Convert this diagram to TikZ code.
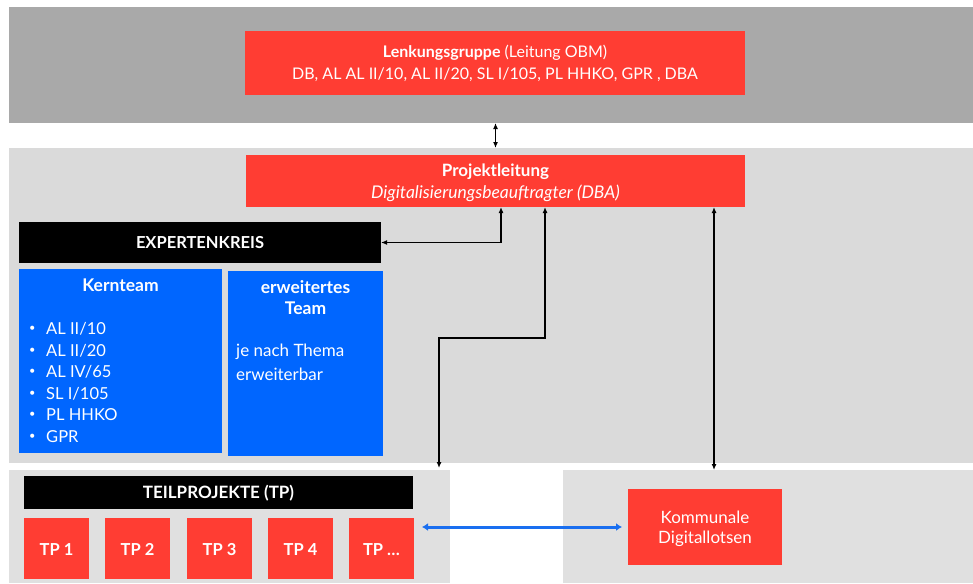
\documentclass[tikz,border=0pt]{standalone}
\usepackage{fontspec}
\setmainfont{Lato}
\usetikzlibrary{arrows.meta,calc}
\definecolor{bandA}{HTML}{A9A9A9}
\definecolor{bandB}{HTML}{DADADA}
\definecolor{bandC}{HTML}{E0E0E0}
\definecolor{redbox}{HTML}{FF3D33}
\definecolor{bluebox}{HTML}{0066FF}
\definecolor{bluearr}{HTML}{1A6FF0}
\tikzset{
  rect/.style={rectangle, inner sep=0pt, outer sep=0pt, anchor=north west},
  band/.style={rect, fill=#1},
  redb/.style={rect, fill=redbox, text=white, align=center},
  blackb/.style={rect, fill=black, text=white, align=center},
  blueb/.style={rect, fill=bluebox},
  wtxt/.style={text=white, inner sep=0pt},
  dbl/.style={line width=1.3pt, {Latex[length=6pt,width=5pt]}-{Latex[length=6pt,width=5pt]}},
  bluedbl/.style={line width=3pt, bluearr, {Latex[length=6pt,width=8pt]}-{Latex[length=6pt,width=8pt]}},
}
\begin{document}
\begin{tikzpicture}[x=1pt,y=-1pt]
\useasboundingbox (0,0) rectangle (973,583);
\fill[white] (0,0) rectangle (973,583);
% bands
\node[band=bandA, minimum width=964pt, minimum height=116pt] (bandtop) at (9,7) {};
\node[band=bandB, minimum width=964pt, minimum height=315pt] (bandmid) at (9,148) {};
\node[band=bandC, minimum width=441pt, minimum height=113pt] (tpband) at (9,470) {};
\node[band=bandC, minimum width=410pt, minimum height=113pt] (kdband) at (563,470) {};
% Lenkungsgruppe
\node[redb, minimum width=500pt, minimum height=64pt] (lenk) at (245,31) {};
\node[wtxt, font=\fontsize{16}{18}\selectfont] at (495,53) {\textbf{Lenkungsgruppe} (Leitung OBM)};
\node[wtxt, font=\fontsize{16}{18}\selectfont] at (495,75) {DB, AL AL II/10, AL II/20, SL I/105, PL HHKO, GPR , DBA};
% Projektleitung
\node[redb, minimum width=499pt, minimum height=52pt] (pl) at (246,155) {};
\node[wtxt, font=\fontsize{17}{19}\selectfont\bfseries] at (495.5,172) {Projektleitung};
\node[wtxt, font=\fontsize{17.5}{19}\selectfont\itshape] at (495.5,193) {Digitalisierungsbeauftragter (DBA)};
% Expertenkreis
\node[blackb, minimum width=362pt, minimum height=41pt] (expert) at (19,222) {};
\node[wtxt, font=\fontsize{16.5}{18}\selectfont\bfseries] at (200,243) {EXPERTENKREIS};
% Kernteam
\node[blueb, minimum width=203pt, minimum height=184pt] (kern) at (19,269) {};
\node[wtxt, font=\fontsize{17.5}{19}\selectfont\bfseries] at (120.5,285) {Kernteam};
\foreach \t [count=\i from 0] in {AL II/10, AL II/20, AL IV/65, SL I/105, PL HHKO, GPR}{
  \node[wtxt, font=\fontsize{11}{13}\selectfont, anchor=west] at (29,{329+\i*21.5}) {\textbullet};
  \node[wtxt, font=\fontsize{16.5}{18}\selectfont, anchor=west] at (46,{329+\i*21.5}) {\t};
}
% erweitertes Team
\node[blueb, minimum width=155pt, minimum height=185pt] (erw) at (228,271) {};
\node[wtxt, font=\fontsize{17.5}{19}\selectfont\bfseries] at (305.5,287) {erweitertes};
\node[wtxt, font=\fontsize{17.5}{19}\selectfont\bfseries] at (305.5,308) {Team};
\node[wtxt, font=\fontsize{17}{19}\selectfont, anchor=west] at (236,352) {je nach Thema};
\node[wtxt, font=\fontsize{17}{19}\selectfont, anchor=west] at (236,374) {erweiterbar};
% Teilprojekte
\node[blackb, minimum width=389pt, minimum height=33pt] (tphead) at (24,476) {};
\node[wtxt, font=\fontsize{17}{19}\selectfont\bfseries] at (218.5,493) {TEILPROJEKTE (TP)};
\foreach \x/\t [count=\i] in {24/TP 1, 105/TP 2, 187/TP 3, 268/TP 4, 349/TP \ldots}{
  \node[redb, minimum width=65pt, minimum height=61pt] (tp\i) at (\x,518) {};
  \node[wtxt, font=\fontsize{16.5}{18}\selectfont\bfseries] at ($(tp\i.center)+(0,1)$) {\t};
}
% Kommunale Digitallotsen
\node[redb, minimum width=154pt, minimum height=76pt] (kd) at (628,489) {};
\node[wtxt, font=\fontsize{17}{19}\selectfont] at (705,517) {Kommunale};
\node[wtxt, font=\fontsize{17}{19}\selectfont] at (705,539) {Digitallotsen};
% connectors
\coordinate (x501) at (501,0);
\coordinate (x545) at (545,0);
\coordinate (x714) at (714,0);
\coordinate (k1) at (439,338);
\draw[dbl] (pl.north |- bandtop.south) -- (pl.north |- bandmid.north);
\draw[dbl] (expert.east) -| (pl.south -| x501);
\draw[dbl] (pl.south -| x545) |- (k1) -- ($(k1 |- tpband.north)+(0,-2)$);
\draw[dbl] (pl.south -| x714) -- (kdband.north -| x714);
\draw[bluedbl] ($(tp5.east |- kd.west)+(8,0)$) -- ($(kd.west)+(-6,0)$);
\end{tikzpicture}
\end{document}
